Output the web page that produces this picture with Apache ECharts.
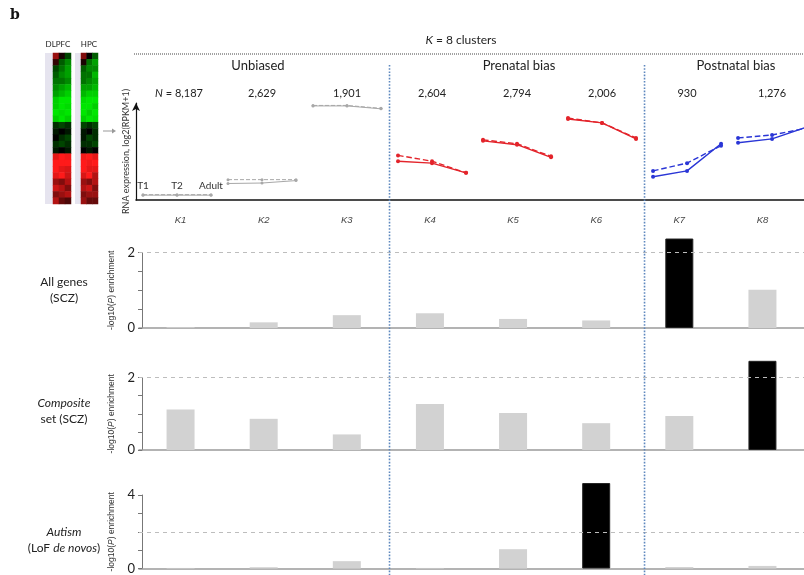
<!DOCTYPE html>
<html><head><meta charset="utf-8">
<script src="https://cdn.jsdelivr.net/npm/echarts@6/dist/echarts.min.js"></script>
<style>html,body{margin:0;padding:0;background:#fff}#c{width:804px;height:575px}</style>
</head><body><div id="c"></div>
<script>
// ---------------- data ----------------
const clusters = ['K1','K2','K3','K4','K5','K6','K7','K8'];
const clusterSizes = ['8,187','2,629','1,901','2,604','2,794','2,006','930','1,276'];
const clusterSection = [0,0,0,1,1,1,2,2];
const sectionNames = ['Unbiased','Prenatal bias','Postnatal bias'];
const timepoints = ['T1','T2','Adult'];
// log2(RPKM+1) trajectories, solid (DLPFC) and dashed (HPC)
const exprSolid  = [[0.5,0.5,0.5],[1.7,1.75,2.0],[9.7,9.7,9.4],[4.0,3.8,2.8],[6.1,5.7,4.4],[8.35,7.95,6.3],[2.4,3.0,5.8],[5.9,6.3,7.5]];
const exprDashed = [[0.55,0.55,0.55],[2.1,2.1,2.1],[9.75,9.75,9.45],[4.6,4.0,2.8],[6.2,5.8,4.5],[8.45,7.95,6.4],[3.0,3.8,5.6],[6.4,6.7,7.4]];
// -log10(P) enrichment
const allGenesSCZ  = [0.02,0.15,0.34,0.39,0.24,0.20,2.37,1.01];
const compositeSCZ = [1.12,0.86,0.43,1.27,1.02,0.74,0.94,2.46];
const autismLoF    = [0.03,0.07,0.40,0.03,1.05,4.65,0.08,0.14];
const threshold = 2;
// heatmap (rows top->bottom, 3 columns per region), -1 green .. +1 red
const heatDLPFC = [
 [0.6,0.2,-0.3,-0.4,-0.5,-0.6,-0.7,-0.9,-0.9,-1,-0.9,-0.2,-0.1,0,-0.2,-0.1,0.9,1,1,0.9,0.6,0.8,0.5,0.7],
 [0.1,-0.4,-0.5,-0.6,-0.5,-0.7,-0.8,-1,-1,-0.95,-1,-0.3,0,-0.2,-0.3,0,1,1,0.9,1,0.5,0.7,0.6,0.4],
 [-0.3,-0.6,-0.7,-0.7,-0.6,-0.8,-0.9,-1,-0.95,-1,-0.9,-0.2,-0.1,-0.3,-0.2,-0.1,0.95,1,0.85,0.8,0.7,0.5,0.7,0.3]
];
const heatHPC = [
 [0.5,0.1,-0.4,-0.5,-0.5,-0.7,-0.8,-0.95,-1,-1,-0.9,-0.3,-0.1,-0.1,-0.2,0,0.95,1,1,0.85,0.6,0.7,0.5,0.6],
 [0,-0.5,-0.6,-0.5,-0.6,-0.7,-0.9,-1,-1,-0.9,-1,-0.2,0,-0.3,-0.2,-0.1,1,0.95,0.9,1,0.5,0.8,0.6,0.4],
 [-0.4,-0.7,-0.6,-0.8,-0.7,-0.8,-0.9,-1,-0.9,-1,-0.95,-0.3,-0.2,-0.2,-0.3,0,0.9,1,0.9,0.7,0.7,0.5,0.6,0.4]
];
const rowLabels = ['{t|All genes}\n{t|(SCZ)}','{i|Composite}\n{t|set (SCZ)}','{i|Autism}\n{t|(LoF }{i|de novos}{t|)}'];

// ---------------- build ----------------
const sectionColors = ['#a8a8a8','#e3242b','#2a36d6'];
const FONT = 'Lato, "Open Sans", sans-serif';
const chart = echarts.init(document.getElementById('c'), null, {renderer:'canvas'});

function heatData(cols){const d=[];cols.forEach((col,c)=>col.forEach((v,r)=>d.push([c,r,v])));return d;}
const rowsIdx = heatDLPFC[0].map((_,i)=>i);

const grids = [
 {left:136, top:103, width:668, height:97},          // 0 line panel
 {left:53, top:53, width:18, height:151},            // 1 heat DLPFC
 {left:81, top:53, width:17, height:151},            // 2 heat HPC
 {left:139, top:252.5, width:677, height:75.5},      // 3 all genes
 {left:139, top:377.5, width:677, height:72.5},      // 4 composite
 {left:139, top:495, width:677, height:76}           // 5 autism
];

const xAxes = [
 {gridIndex:0, type:'value', min:-1.206, max:18.44, axisLine:{onZero:false, lineStyle:{color:'#111',width:1.5}}, axisTick:{show:false}, axisLabel:{show:false}, splitLine:{show:false}},
 {gridIndex:1, type:'category', data:[0,1,2], show:false},
 {gridIndex:2, type:'category', data:[0,1,2], show:false}
];
const yAxes = [
 {gridIndex:0, type:'value', min:0, max:10, axisLine:{show:true, onZero:false, symbol:['none','arrow'], symbolSize:[6,8], lineStyle:{color:'#111',width:1.2}}, axisTick:{show:false}, axisLabel:{show:false}, splitLine:{show:false},
  name:'RNA expression, log2(RPKM+1)', nameLocation:'middle', nameGap:5, nameTextStyle:{fontFamily:FONT, fontSize:9, color:'#333'}},
 {gridIndex:1, type:'category', data:rowsIdx, inverse:true, show:false},
 {gridIndex:2, type:'category', data:rowsIdx, inverse:true, show:false}
];
const barSets = [allGenesSCZ, compositeSCZ, autismLoF];
const barMax = [2,2,4], barInt=[0.5,0.5,1];
barSets.forEach((vals,p)=>{
  const g = 3+p;
  xAxes.push({gridIndex:g, type:'category', data:clusters, axisLine:{lineStyle:{color:'#9a9a9a',width:1.5}}, axisTick:{show:false}, axisLabel:{show:false}});
  yAxes.push({gridIndex:g, type:'value', min:0, max:barMax[p], interval:barInt[p], offset:-3,
    axisLine:{show:true, lineStyle:{color:'#777',width:1}}, axisTick:{show:true, length:4, lineStyle:{color:'#777'}},
    axisLabel:{fontFamily:FONT, fontSize:13, color:'#222', margin:7, formatter:v=>(v===0||v===barMax[p])?String(v):''},
    splitLine:{show:false},
    name:'-log10({i|P}) enrichment', nameLocation:'middle', nameGap:15,
    nameTextStyle:{fontFamily:'"Liberation Sans", Arial, sans-serif', fontSize:8.5, color:'#333', rich:{i:{fontStyle:'italic', fontFamily:'"Liberation Sans", Arial, sans-serif', fontSize:8.5, color:'#333'}}}
  });
});
// cluster labels above first bar panel
xAxes.push({gridIndex:3, type:'category', data:clusters, position:'top', axisLine:{show:false}, axisTick:{show:false},
  axisLabel:{fontFamily:'"Liberation Sans", Arial, sans-serif', fontStyle:'italic', fontSize:9.5, color:'#444', margin:27}});

const series = [
 {type:'heatmap', xAxisIndex:1, yAxisIndex:1, data:heatData(heatDLPFC)},
 {type:'heatmap', xAxisIndex:2, yAxisIndex:2, data:heatData(heatHPC)}
];
clusters.forEach((k,ci)=>{
  [[exprSolid,'solid'],[exprDashed,'dashed']].forEach(([arr,dash],li)=>{
    const col = sectionColors[clusterSection[ci]];
    const gray = clusterSection[ci]===0;
    series.push({
      type:'line', xAxisIndex:0, yAxisIndex:0, symbol:'circle', symbolSize: gray?3:4,
      data: timepoints.map((t,j)=>[ci*2.5 + j - 1, arr[ci][j]]),
      lineStyle:{color:col, width: gray?1:1.4, type:dash}, itemStyle:{color:col},
      label: (ci===0 && li===0) ? {show:true, position:'top', distance:3, fontFamily:FONT, fontSize:10, color:'#333',
        formatter:p=>timepoints[p.dataIndex]} : {show:false},
      animation:false, z: 3
    });
  });
});
barSets.forEach((vals,p)=>{
  series.push({
    type:'bar', xAxisIndex:3+p, yAxisIndex:3+p, barWidth:28, clip:false,
    data: vals.map(v=>({value:v, itemStyle:{color: v>threshold ? '#000' : '#d2d2d2', borderColor: v>threshold ? '#222':'#d2d2d2', borderWidth: v>threshold?1:0}})),
    markLine:{silent:true, symbol:'none', label:{show:false}, lineStyle:{color:'#bdbdbd', type:[4,4], width:1}, data:[{yAxis:threshold}]},
    z:2, animation:false
  });
});

chart.setOption({
  backgroundColor:'#fff',
  animation:false,
  grid:grids, xAxis:xAxes, yAxis:yAxes, series:series,
  visualMap:{type:'continuous', show:false, min:-1, max:1, seriesIndex:[0,1], inRange:{color:['#00e600','#000000','#ff1a1a']}}
});

// ---------------- annotations ----------------
const px = v => chart.convertToPixel({xAxisIndex:0}, v);
const center = ci => px(ci*2.5);
const b1 = px(2*2.5+1.25), b2 = px(5*2.5+1.25);
const graphic = [];
graphic.push({type:'text', left:10, top:8, style:{text:'b', font:'bold 14px "DejaVu Serif", serif', fill:'#111'}});
graphic.push({type:'text', x:58, y:44, style:{text:'DLPFC', font:'8px '+FONT, fill:'#222', textAlign:'center', textVerticalAlign:'middle'}});
graphic.push({type:'text', x:89, y:44, style:{text:'HPC', font:'8px '+FONT, fill:'#222', textAlign:'center', textVerticalAlign:'middle'}});
graphic.push({type:'rect', shape:{x:45, y:53, width:8, height:151}, style:{fill:'#e6e4ef'}});
graphic.push({type:'rect', shape:{x:75, y:53, width:6, height:151}, style:{fill:'#e6e4ef'}});
graphic.push({type:'line', shape:{x1:103, y1:131, x2:114, y2:131}, style:{stroke:'#999', lineWidth:1}});
graphic.push({type:'polygon', shape:{points:[[116,131],[112,128.5],[112,133.5]]}, style:{fill:'#999'}});
graphic.push({type:'text', x:461, y:40, style:{text:'{i|K} = 8 clusters', font:'12px '+FONT, fill:'#222', textAlign:'center', textVerticalAlign:'middle',
  rich:{i:{fontStyle:'italic', fontFamily:FONT, fontSize:12, fill:'#222'}}}});
graphic.push({type:'line', shape:{x1:134, y1:54, x2:804, y2:54}, style:{stroke:'#444', lineWidth:1, lineDash:[1,1]}});
const secX = [258, 519, 736];
sectionNames.forEach((s,i)=>graphic.push({type:'text', x:secX[i], y:66, style:{text:s, font:'13px '+FONT, fill:'#222', textAlign:'center', textVerticalAlign:'middle'}}));
clusterSizes.forEach((n,ci)=>graphic.push({type:'text', x:center(ci)+(ci===0?2:0), y:93,
  style:{text: ci===0 ? '{i|N} = '+n : n, font:'11px '+FONT, fill:'#222', textAlign:'center', textVerticalAlign:'middle',
  rich:{i:{fontStyle:'italic', fontFamily:FONT, fontSize:11, fill:'#222'}}}}));
[b1,b2].forEach(x=>graphic.push({type:'line', z:10, shape:{x1:x, y1:65, x2:x, y2:575}, style:{stroke:'#5d87be', lineWidth:1.6, lineDash:[1.6,1.6]}}));
const rowY = [290, 411, 540];
rowLabels.forEach((t,i)=>graphic.push({type:'text', x:64, y:rowY[i], style:{text:t, font:'12px '+FONT, fill:'#222', textAlign:'center', textVerticalAlign:'middle', lineHeight:16,
  rich:{t:{fontFamily:FONT, fontSize:12, fill:'#222', lineHeight:16}, i:{fontStyle:'italic', fontFamily:FONT, fontSize:12, fill:'#222', lineHeight:16}}}}));
chart.setOption({graphic:graphic});
</script></body></html>
